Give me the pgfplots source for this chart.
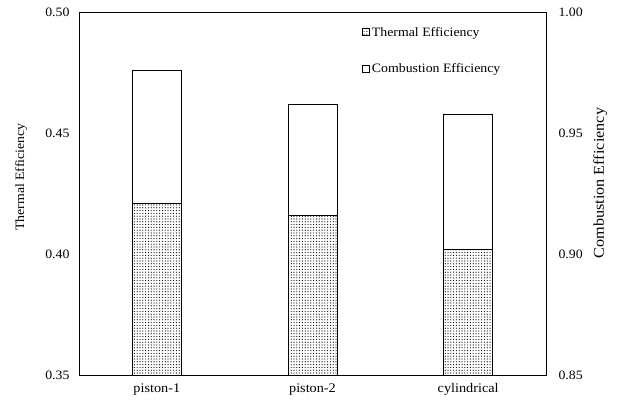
\documentclass[border=0pt]{standalone}
\usepackage{fontspec}
\setmainfont{Liberation Serif}[FakeStretch=1.08]
\usepackage{pgfplots}
\usepackage{pgfplotstable}
\pgfplotsset{compat=1.18}
\usetikzlibrary{patterns.meta}

% efficiency of each combustion-chamber geometry
\pgfplotstableread{
x comb therm
0 0.976 0.421
1 0.962 0.416
2 0.958 0.402
}\effdata

\pgfplotsset{
  effbase/.style={
    scale only axis, width=467bp, height=363bp,
    xmin=-0.5, xmax=2.5,
    ybar, bar width=49bp,
    tick style={draw=none},
    /pgf/number format/assume math mode=true,
    /pgf/number format/.cd, fixed, fixed zerofill, precision=2, /pgfplots/.cd,
    yticklabel style={font=\fontsize{12.8bp}{15bp}\selectfont},
    xticklabel style={font=\fontsize{13.2bp}{15bp}\selectfont},
  },
}

\begin{document}
\begin{tikzpicture}
% combustion efficiency on the right-hand scale, drawn underneath
\begin{axis}[effbase,
  name=comb,
  ymin=0.85, ymax=1.00,
  ytick={0.85,0.90,0.95,1.00},
  axis y line*=right, axis x line=none,
  yticklabel style={xshift=9bp},
  ylabel={Combustion Efficiency},
  every axis y label/.style={at={(axis description cs:1.116,0.53)}, rotate=90,
    anchor=center, font=\fontsize{15bp}{17bp}\selectfont},
]
\addplot[draw=black, fill=white, line width=0.8bp] table[x=x, y=comb] {\effdata};
\end{axis}

% thermal efficiency on the left-hand scale, dotted bars in front
\begin{axis}[effbase,
  name=therm,
  ymin=0.35, ymax=0.50,
  ytick={0.35,0.40,0.45,0.50},
  xtick={0,1,2},
  xticklabels={piston-1,piston-2,cylindrical},
  yticklabel style={xshift=-6bp},
  ylabel={Thermal Efficiency},
  every axis y label/.style={at={(axis description cs:-0.124,0.547)}, rotate=90,
    anchor=center, font=\fontsize{12.8bp}{15bp}\selectfont},
  axis line style={line width=0.8bp},
  legend style={at={(axis description cs:0.606,0.966)}, anchor=north west,
    draw=none, fill=none, inner sep=0pt, row sep=22bp,
    font=\fontsize{12.8bp}{15bp}\selectfont},
  legend cell align=left,
  legend image code/.code={\draw[#1] (0bp,-3.5bp) rectangle (7bp,3.5bp);},
]
\addplot[draw=black, fill=white, line width=0.8bp,
  postaction={pattern={Dots[distance=2.8bp, radius=0.6bp]}, pattern color=black}]
  table[x=x, y=therm] {\effdata};
\addlegendentry{Thermal Efficiency}
\addlegendimage{draw=black, fill=white, line width=0.6bp}
\addlegendentry{Combustion Efficiency}
\end{axis}

\pgfresetboundingbox
\path ([shift={(-79bp,-25.5bp)}]therm.south west)
  rectangle ([shift={(74bp,12.5bp)}]therm.north east);
\end{tikzpicture}
\end{document}
